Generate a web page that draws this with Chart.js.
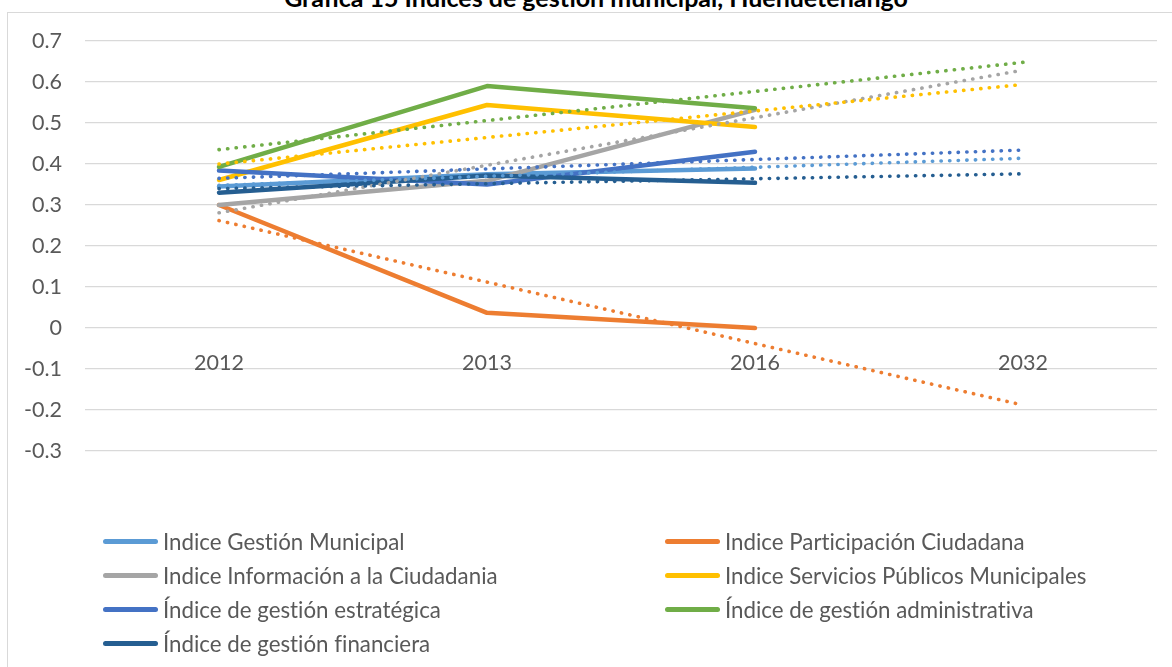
<!DOCTYPE html>
<html lang="es">
<head>
<meta charset="utf-8">
<title>Gráfica 15 Índices de gestión municipal, Huehuetenango</title>
<script src="https://cdn.jsdelivr.net/npm/chart.js@4.4.1/dist/chart.umd.min.js"></script>
<style>
    body { margin: 0; background: #fff; overflow: hidden; font-family: Lato, sans-serif; font-variant-ligatures: none; }
    #frame { position: absolute; left: 7px; top: 12px; width: 1180px; height: 700px; border: 1px solid #d9d9d9; }
    #title { position: absolute; left: 0; top: -15px; width: 1192px; text-align: center; font: bold 25px/25px Lato, sans-serif; color: #000; }
    #chart-box { position: absolute; left: 0; top: 0; width: 1172px; height: 667px; }
    #legend { position: absolute; left: 103px; top: 524px; display: grid; grid-template-columns: 562px 440px; }
    .item { height: 34px; display: flex; align-items: center; font-size: 22.3px; color: #595959; white-space: nowrap; }
    .swatch { width: 55px; height: 5px; border-radius: 3px; margin-right: 5px; flex: none; }
</style>
</head>
<body>
<div id="frame"></div>
<div id="title">Gráfica 15 Índices de gestión municipal, Huehuetenango</div>
<div id="chart-box"><canvas id="indices-chart"></canvas></div>
<div id="legend"></div>
<script>
const years = ['2012', '2013', '2016', '2032'];

const seriesNames = [
    'Indice Gestión Municipal',
    'Indice Participación Ciudadana',
    'Indice Información a la Ciudadania',
    'Indice Servicios Públicos Municipales',
    'Índice de gestión estratégica',
    'Índice de gestión administrativa',
    'Índice de gestión financiera',
];

// values for 2012, 2013, 2016 (nothing measured for 2032)
const gestionMunicipal = [0.345, 0.375, 0.389, null];
const participacion = [0.300, 0.037, 0.000, null];
const informacion = [0.300, 0.359, 0.532, null];
const servicios = [0.361, 0.544, 0.490, null];
const estrategica = [0.384, 0.350, 0.430, null];
const administrativa = [0.393, 0.590, 0.536, null];
const financiera = [0.330, 0.372, 0.354, null];

// linear trendlines, read at 2012 and at 2032
const trendStart = [0.348, 0.262, 0.281, 0.400, 0.365, 0.435, 0.340];
const trendEnd = [0.414, -0.188, 0.629, 0.594, 0.434, 0.648, 0.376];

const seriesColors = ['#5B9BD5', '#ED7D31', '#A5A5A5', '#FFC000', '#4472C4', '#70AD47', '#255E91'];

const seriesValues = [gestionMunicipal, participacion, informacion, servicios, estrategica, administrativa, financiera];

const datasets = [];

seriesValues.forEach((values, i) => {
    datasets.push({
        label: seriesNames[i],
        data: values,
        borderColor: seriesColors[i],
        borderWidth: 4.5,
        borderCapStyle: 'round',
        borderJoinStyle: 'round',
        pointRadius: 0,
        fill: false,
        order: 20 + (7 - i),
    });
});

// trendlines go on top of the solid lines
seriesValues.forEach((values, i) => {
    datasets.push({
        label: 'Tendencia ' + seriesNames[i],
        data: [trendStart[i], null, null, trendEnd[i]],
        spanGaps: true,
        borderColor: seriesColors[i],
        borderWidth: 3.6,
        borderDash: [0.3, 8.3],
        borderCapStyle: 'round',
        pointRadius: 0,
        fill: false,
        order: 7 - i,
    });
});

const tickFont = { family: 'Lato', size: 21.5 };

const ctx = document.getElementById('indices-chart').getContext('2d');

new Chart(ctx, {
    type: 'line',
    data: { labels: years, datasets: datasets },
    options: {
        responsive: true,
        maintainAspectRatio: false,
        animation: false,
        layout: { padding: { left: 7, right: 15, top: 41, bottom: 216 } },
        plugins: {
            legend: { display: false },
            title: { display: false },
            tooltip: { enabled: false },
        },
        scales: {
            x: {
                position: { y: 0 },
                offset: true,
                grid: { display: false },
                border: { display: false },
                ticks: { color: '#595959', font: tickFont, padding: 14, maxRotation: 0 },
            },
            y: {
                min: -0.3,
                max: 0.7,
                afterFit: scale => { scale.width = 78; },
                border: { display: false },
                grid: { color: '#d9d9d9', lineWidth: 1.3, drawTicks: false },
                ticks: {
                    stepSize: 0.1,
                    padding: 23,
                    color: '#595959',
                    font: tickFont,
                    callback: value => String(Math.round(value * 10) / 10),
                },
            },
        },
    },
});

// legend in two columns, like the original
const legend = document.getElementById('legend');
seriesNames.forEach((name, i) => {
    const item = document.createElement('div');
    item.className = 'item';
    const swatch = document.createElement('span');
    swatch.className = 'swatch';
    swatch.style.background = seriesColors[i];
    item.appendChild(swatch);
    item.appendChild(document.createTextNode(name));
    legend.appendChild(item);
});
</script>
</body>
</html>
